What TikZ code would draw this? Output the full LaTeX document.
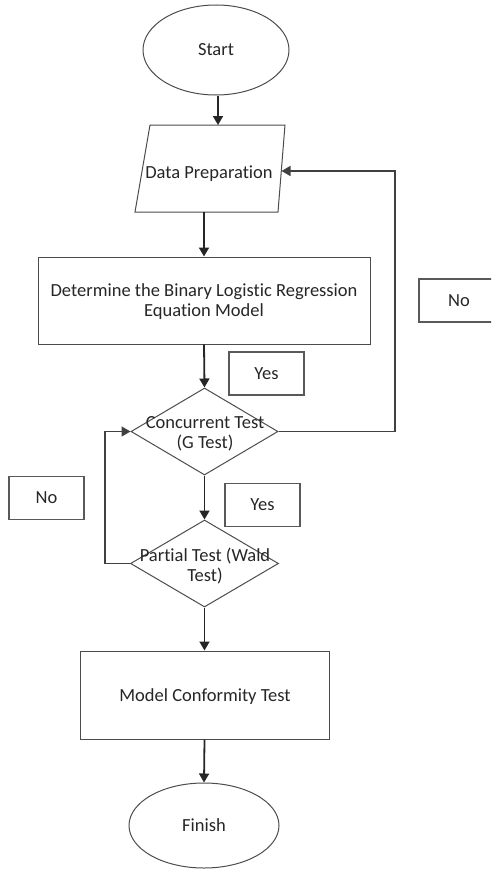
\documentclass[tikz,border=0pt]{standalone}
\usepackage{fontspec}
\setmainfont{Carlito}[Ligatures={NoCommon}]
\usetikzlibrary{shapes.geometric,arrows.meta}
\begin{document}
\begin{tikzpicture}[x=1pt,y=-1pt,
  txt/.style={font=\fontsize{18.5}{20}\selectfont, text=black!85, align=center},
  shapeline/.style={draw=black!70, line width=1pt},
  oval/.style={shapeline, ellipse, inner sep=0pt},
  procbox/.style={shapeline, rectangle, inner sep=0pt},
  decision/.style={shapeline, diamond, inner sep=0pt},
  labelbox/.style={draw=black!65, line width=1.3pt, rectangle, inner sep=0pt,
                   minimum width=75pt, minimum height=43pt, txt},
  arr/.style={draw=black!85, line width=1.8pt, -{Triangle[length=9pt,width=10pt]}},
  loopline/.style={draw=black!75, line width=1.6pt, -{Triangle[length=9pt,width=10pt]}}]
\useasboundingbox (0,0) rectangle (491,870);
\clip (0,0) rectangle (491,870);

% Start
\node[oval, minimum width=146pt, minimum height=90pt] (start) at (216,50) {};
\node[txt] (starttxt) at (start) {Start};

% Data Preparation (slanted box)
\coordinate (dtl) at (150,125);
\coordinate (dtr) at (285,125);
\coordinate (dbr) at (278,212);
\coordinate (dbl) at (135,212);
\draw[shapeline] (dtl) -- (dtr) -- (dbr) -- (dbl) -- cycle;
\node[txt] (data) at (209,174) {Data Preparation};
\coordinate (dtop) at (218,125);
\coordinate (dbot) at (204,212);
\coordinate (dright) at (281.5,171);

% Determine
\node[procbox, minimum width=332pt, minimum height=87pt] (det) at (204,300.5) {};
\node[txt] (dettxt) at (204,302) {Determine the Binary Logistic Regression\\Equation Model};

% Concurrent Test
\node[decision, minimum width=147pt, minimum height=87pt] (conc) at (204.5,431.5) {};
\node[txt] (conctxt) at (205,434) {Concurrent Test\\(G Test)};

% Partial Test
\node[decision, minimum width=148pt, minimum height=87pt] (part) at (204.5,563.5) {};
\node[txt] (parttxt) at (205,566) {Partial Test (Wald\\Test)};

% Model Conformity Test
\node[procbox, minimum width=249pt, minimum height=88pt] (model) at (204.5,695) {};
\node[txt] (modeltxt) at (205,697) {Model Conformity Test};

% Finish
\node[oval, minimum width=150pt, minimum height=85pt] (finish) at (204,825.5) {};
\node[txt] (finishtxt) at (finish) {Finish};

% Yes / No labels
\node[labelbox] (yes1) at (266.5,373.5) {Yes};
\node[labelbox] (yes2) at (262.5,505) {Yes};
\node[labelbox] (no1) at (46.5,498) {No};
\node[labelbox, minimum width=80pt] (no2) at (459,300.5) {No};

% loop helpers
\coordinate (rl) at (395,300);
\coordinate (ll) at (105,500);

% Main flow
\draw[arr] (start.south -| dtop) -- (dtop);
\draw[arr] (dbot) -- (det.north);
\draw[arr] (det.south) -- (conc.north);
\draw[arr] (conc.south) -- (part.north);
\draw[arr] (part.south) -- (model.north);
\draw[arr] (model.south) -- (finish.north);

% Loops
\draw[loopline] (conc.east) -- (conc.east -| rl) -- (rl |- dright) -- (dright);
\draw[loopline] (part.west) -- (part.west -| ll) -- (ll |- conc.west) -- (conc.west);
\end{tikzpicture}
\end{document}
